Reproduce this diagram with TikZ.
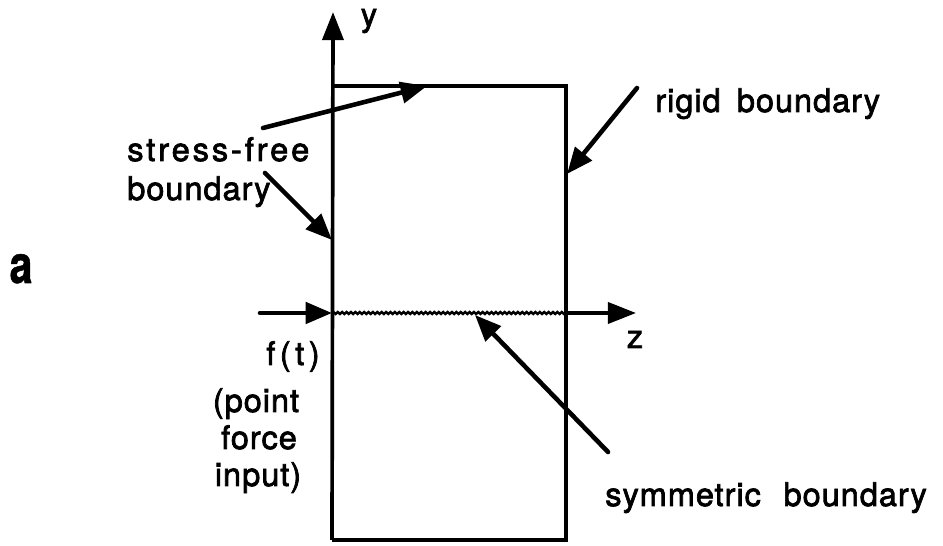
\documentclass[tikz,border=0pt]{standalone}
\usepackage{fontspec}
\setmainfont{TeX Gyre Heros}
\usetikzlibrary{arrows.meta,decorations.pathmorphing}

\begin{document}
\begin{tikzpicture}[x=0.02cm,y=-0.02cm,
  lbl/.style={font=\fontsize{18.5}{22}\selectfont\addfontfeature{LetterSpace=3,FakeBold=2.2},inner sep=0pt},
  wall/.style={line width=2.1pt},
  ptr/.style={-{Triangle[length=15pt,width=12pt]},line width=2.6pt,line cap=round},
  axis/.style={-{Triangle[length=16pt,width=12pt]},line width=2.1pt},
  wavy/.style={line width=1.4pt,decorate,decoration={snake,amplitude=.55pt,segment length=2.5pt}}]
  \useasboundingbox (0,0) rectangle (943,546);
  % slab and axes
  \coordinate (tl) at (332,86); \coordinate (tr) at (566,86);
  \coordinate (bl) at (332,540); \coordinate (br) at (566,540);
  \coordinate (ytip) at (333,12);
  \coordinate (origin) at (332,313); \coordinate (zin) at (566,313);
  \coordinate (ztip) at (636,313);
  \draw[wall] (tl) -- (tr) -- (br) -- (bl);
  \draw[axis] (bl) -- (ytip);
  \draw[wavy] (origin) -- (zin);
  \draw[axis] (zin) -- (ztip);
  % labels
  \node[inner sep=0pt,font=\bfseries\fontsize{30}{30}\selectfont\addfontfeature{FakeStretch=0.78,FakeBold=1},anchor=base] (panel) at (21,283) {a};
  \node[lbl,anchor=base] (ylbl) at (369,26) {y};
  \node[lbl,anchor=base] (zlbl) at (635,348) {z};
  \node[lbl,anchor=base west,font=\fontsize{18.5}{22}\selectfont\addfontfeature{LetterSpace=9,FakeBold=2.2}] (sfreeA) at (127,161) {stress-free};
  \node[lbl,anchor=base west] (sfreeB) at (127,200) {boundary};
  \node[lbl,anchor=base west] (rigid) at (655,112) {rigid\hspace{.5em}boundary};
  \node[lbl,anchor=base west] (sym) at (605,506) {symmetric\hspace{.7em}boundary};
  \node[lbl,anchor=base east,font=\fontsize{18.5}{22}\selectfont\addfontfeature{LetterSpace=14,FakeBold=2.2}] (ft) at (320,365) {f(t)};
  \node[lbl,anchor=base] (inA) at (256,412) {(point};
  \node[lbl,anchor=base] (inB) at (259,449) {force};
  \node[lbl,anchor=base] (inC) at (258,486) {input)};
  % pointers
  \coordinate (sfAtail) at (263,128); \coordinate (sfAtip) at (427,86);
  \coordinate (sfBtail) at (265,173); \coordinate (sfBtip) at (332,240);
  \coordinate (rgtail) at (637,88); \coordinate (rgtip) at (567,174);
  \coordinate (smtail) at (608,452); \coordinate (smtip) at (475,315);
  \coordinate (fttail) at (260,313);
  \draw[ptr] (sfAtail) -- (sfAtip);
  \draw[ptr] (sfBtail) -- (sfBtip);
  \draw[ptr] (rgtail) -- (rgtip);
  \draw[ptr] (smtail) -- (smtip);
  \draw[ptr] (fttail) -- (origin);
\end{tikzpicture}
\end{document}
